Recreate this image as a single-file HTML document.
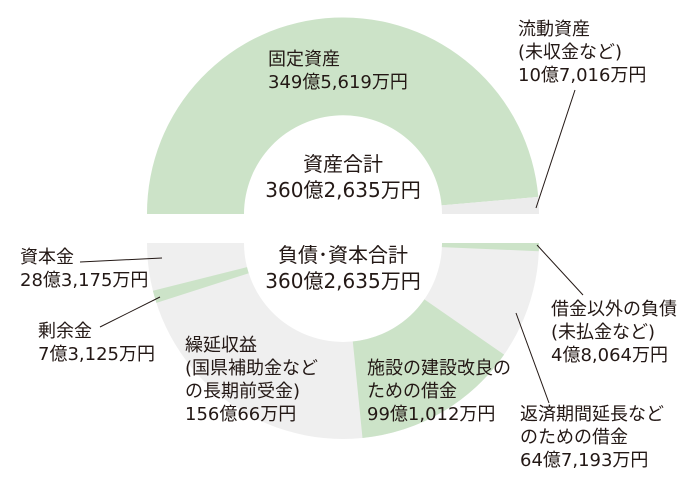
<!DOCTYPE html>
<html><head><meta charset="utf-8"><style>
body{margin:0;width:684px;height:481px;background:#fff;position:relative;overflow:hidden;font-family:"DejaVu Sans","Noto Sans CJK JP",sans-serif;color:#231815}
.t{position:absolute;font-size:18px;line-height:23px;white-space:nowrap}
.c{position:absolute;left:223px;width:240px;text-align:center;font-size:20px;line-height:26px;white-space:nowrap}
svg{position:absolute;left:0;top:0}
</style></head><body>
<svg width="684" height="481">
<path d="M147,214 A196,196 0 0 1 538.3,196.9 L441.6,205.4 A99,99 0 0 0 244,214 Z" fill="#cce3c8"/>
<path d="M538.3,196.9 A196,196 0 0 1 539,214 L442,214 A99,99 0 0 0 441.6,205.4 Z" fill="#ececec"/>
<path d="M539,243 A196,196 0 0 1 147,243 L244,243 A99,99 0 0 0 442,243 Z" fill="#efefef"/>
<path d="M539,243 A196,196 0 0 1 538.8,251.2 L441.9,247.1 A99,99 0 0 0 442,243 Z" fill="#cce3c8"/>
<path d="M504.1,354.6 A196,196 0 0 1 362.5,438 L352.8,341.5 A99,99 0 0 0 424.4,299.4 Z" fill="#cce3c8"/>
<path d="M156.4,302.9 A196,196 0 0 1 152.9,290.7 L247,267.1 A99,99 0 0 0 248.7,273.3 Z" fill="#cce3c8"/>
<g stroke="#231815" stroke-width="1">
<line x1="536" y1="208" x2="575" y2="90"/>
<line x1="80" y1="262" x2="162" y2="258"/>
<line x1="100" y1="327" x2="160" y2="297"/>
<line x1="537" y1="245" x2="583" y2="295"/>
<line x1="516" y1="313" x2="549" y2="403"/>
</g>
</svg>
<div class="t" style="left:268px;top:48px">固定資産<br>349億5,619万円</div>
<div class="t" style="left:518px;top:18px">流動資産<br>(未収金など)<br>10億7,016万円</div>
<div class="c" style="top:151px">資産合計<br>360億2,635万円</div>
<div class="c" style="top:242px">負債･資本合計<br>360億2,635万円</div>
<div class="t" style="left:20px;top:246px">資本金<br>28億3,175万円</div>
<div class="t" style="left:38px;top:320px">剰余金<br>7億3,125万円</div>
<div class="t" style="left:185px;top:334px">繰延収益<br>(国県補助金など<br>の長期前受金)<br>156億66万円</div>
<div class="t" style="left:367px;top:357px">施設の建設改良の<br>ための借金<br>99億1,012万円</div>
<div class="t" style="left:551px;top:298px">借金以外の負債<br>(未払金など)<br>4億8,064万円</div>
<div class="t" style="left:520px;top:403px">返済期間延長など<br>のための借金<br>64億7,193万円</div>
</body></html>
